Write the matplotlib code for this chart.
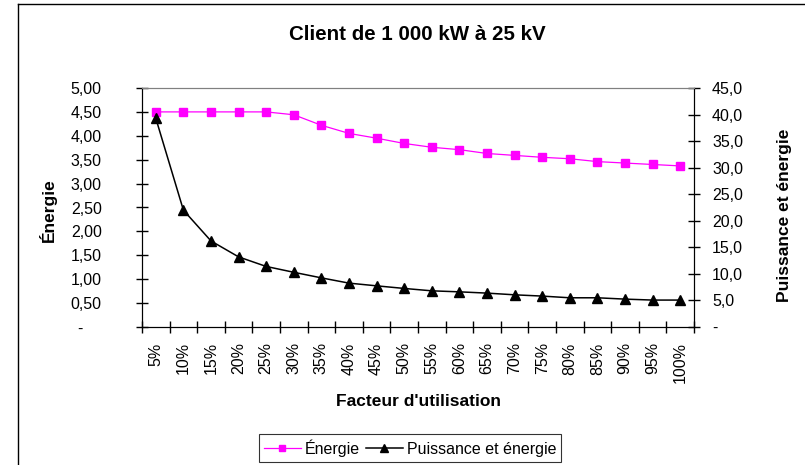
import matplotlib
matplotlib.use("Agg")
import matplotlib.pyplot as plt
from matplotlib.lines import Line2D
from matplotlib.ticker import FixedLocator, FuncFormatter

plt.rcParams["font.family"] = ["Liberation Sans", "DejaVu Sans"]

# facteur d'utilisation
categories = ["5%", "10%", "15%", "20%", "25%", "30%", "35%", "40%", "45%", "50%",
              "55%", "60%", "65%", "70%", "75%", "80%", "85%", "90%", "95%", "100%"]
energie = [4.50, 4.50, 4.50, 4.50, 4.50, 4.44, 4.22, 4.05, 3.95, 3.84,
           3.76, 3.71, 3.63, 3.59, 3.55, 3.52, 3.46, 3.43, 3.40, 3.37]
puissance_energie = [39.3, 22.0, 16.2, 13.2, 11.4, 10.3, 9.25, 8.26, 7.75, 7.26,
                     6.81, 6.62, 6.38, 6.06, 5.82, 5.50, 5.50, 5.25, 5.07, 5.07]

W, H = 805, 465
fig = plt.figure(figsize=(W / 100, H / 100), dpi=100)
ax = fig.add_axes([142 / W, 1 - 327 / H, (694 - 142) / W, (327 - 88) / H])
ax2 = ax.twinx()

x = list(range(len(categories)))
l1, = ax.plot(x, energie, color="#ff00ff", lw=0.9, marker="s", ms=5.8,
              mec="#ff00ff", mfc="#ff00ff", label="Énergie")
l2, = ax2.plot(x, puissance_energie, color="black", lw=1.1, marker="^", ms=6.5,
               label="Puissance et énergie")

ax.set_xlim(-0.5, len(categories) - 0.5)
ax.set_ylim(0, 5)
ax2.set_ylim(0, 45)

ax.xaxis.set_major_locator(FixedLocator([i - 0.5 for i in range(len(categories) + 1)]))
ax.xaxis.set_minor_locator(FixedLocator(x))
ax.set_xticklabels([], minor=False)
ax.set_xticklabels(categories, minor=True, rotation=90, fontsize=11.5)
ax.tick_params(axis="x", which="minor", length=0, pad=11)
ax.tick_params(axis="x", which="major", direction="inout", length=8, width=1)

ax.set_yticks([i * 0.5 for i in range(11)])
ax.yaxis.set_major_formatter(FuncFormatter(
    lambda v, p: "-    " if abs(v) < 1e-9 else f"{v:.2f}".replace(".", ",")))
ax.tick_params(axis="y", direction="inout", length=8, width=1, labelsize=11.5, pad=25)

ax2.set_yticks([i * 5 for i in range(10)])
ax2.yaxis.set_major_formatter(FuncFormatter(
    lambda v, p: "-" if abs(v) < 1e-9 else f"{v:.1f}".replace(".", ",")))
ax2.tick_params(axis="y", direction="inout", length=8, width=1, labelsize=11.5, pad=9)

for a in (ax, ax2):
    a.spines["top"].set_color("#808080")
    a.spines["left"].set_color("black")
    a.spines["right"].set_color("black")
    a.spines["bottom"].set_color("black")

fig.text(417 / W, 1 - 34.5 / H, "Client de 1 000 kW à 25 kV", ha="center", va="center",
         fontsize=14.8, fontweight="bold")
fig.text(418 / W, 1 - 401 / H, "Facteur d'utilisation", ha="center", va="center",
         fontsize=12.5, fontweight="bold")
fig.text(48 / W, 1 - 210 / H, "Énergie", ha="center", va="center", rotation=90,
         fontsize=12.5, fontweight="bold")
fig.text(784 / W, 1 - 215 / H, "Puissance et énergie", ha="center", va="center",
         rotation=90, fontsize=12.5, fontweight="bold")

leg = fig.legend(handles=[l1, l2], loc="center", bbox_to_anchor=(410 / W, 1 - 448 / H),
                 ncol=2, frameon=True, fancybox=False, fontsize=11.5, handlelength=2.3,
                 handletextpad=0.25, columnspacing=0.4, borderpad=0.3, borderaxespad=0,
                 markerscale=0.85)
leg.get_frame().set_edgecolor("black")
leg.get_frame().set_linewidth(0.8)

# cadre du graphique
fig.add_artist(Line2D([18 / W, 18 / W], [0, 1 - 4 / H], color="black", lw=1))
fig.add_artist(Line2D([18 / W, 1], [1 - 4 / H, 1 - 4 / H], color="black", lw=1))

fig.savefig("out.png", dpi=100)
